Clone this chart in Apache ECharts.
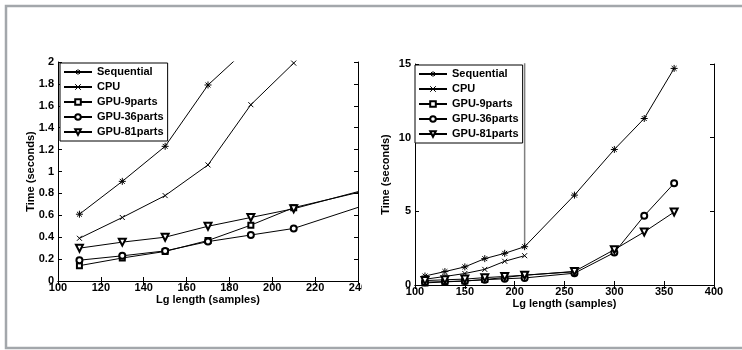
<!DOCTYPE html>
<html>
<head>
<meta charset="utf-8">
<script src="https://cdn.jsdelivr.net/npm/echarts@6/dist/echarts.min.js"></script>
<style>
  html, body { margin: 0; padding: 0; background: #fff; }
  #chart { width: 742px; height: 350px; }
</style>
</head>
<body>
<div id="chart"></div>
<script>
// lg length (samples) for each measurement
const lengths = [110, 130, 150, 170, 190, 210, 260, 300, 330, 360];
// times in seconds
const sequential = [0.61, 0.91, 1.23, 1.79, 2.15, 2.6, 6.1, 9.2, 11.3, 14.7];
const cpu = [0.39, 0.58, 0.78, 1.06, 1.61, 1.99];
const gpu9 = [0.14, 0.21, 0.27, 0.37, 0.51, 0.67, 0.9];
const gpu36 = [0.19, 0.23, 0.275, 0.36, 0.42, 0.48, 0.8, 2.2, 4.7, 6.9];
const gpu81 = [0.30, 0.355, 0.40, 0.50, 0.58, 0.66, 0.92, 2.4, 3.6, 4.95];
// the odd grey spike in the right panel
const spike = [[210, 2.6], [210, 16]];

const names = ["Sequential", "CPU", "GPU-9parts", "GPU-36parts", "GPU-81parts"];
const font = "'Liberation Sans', Arial, sans-serif";

const starPath = "path://M0,-10L0,10M-10,0L10,0M-7,-7L7,7M-7,7L7,-7";
const crossPath = "path://M-10,-10L10,10M-10,10L10,-10";

function pairs(vals) {
    let out = [];
    for (let i = 0; i < vals.length; i++) out.push([lengths[i], vals[i]]);
    return out;
}

const styles = [
    { data: sequential, symbol: starPath, size: 7 },
    { data: cpu, symbol: crossPath, size: 5 },
    { data: gpu9, symbol: "emptyRect", size: 5 },
    { data: gpu36, symbol: "emptyCircle", size: 6 },
    { data: gpu81, symbol: "emptyTriangle", size: 7, rotate: 180 },
];

function makeSeries(gridIdx) {
    let series = [];
    for (let i = 0; i < names.length; i++) {
        let s = styles[i];
        series.push({
            name: names[i],
            type: "line",
            xAxisIndex: gridIdx * 2,
            yAxisIndex: gridIdx * 2,
            data: pairs(s.data),
            symbol: s.symbol,
            symbolSize: s.size,
            symbolRotate: s.rotate || 0,
            showAllSymbol: true,
            clip: true,
            animation: false,
            lineStyle: { color: "#000", width: 1 },
            itemStyle: { color: "#000", borderColor: "#000", borderWidth: 1 },
        });
    }
    return series;
}

function axisPair(dim, gridIdx, min, max, interval, name, nameGap) {
    const main = {
        type: "value",
        gridIndex: gridIdx,
        min: min, max: max, interval: interval,
        name: name,
        nameLocation: "middle",
        nameGap: nameGap,
        nameMoveOverlap: false,
        nameTextStyle: { fontFamily: font, fontWeight: "bold", fontSize: 11, color: "#000" },
        axisLine: { show: true, lineStyle: { color: "#000", width: 1 } },
        axisTick: { show: true, inside: true, length: 4, lineStyle: { color: "#000" } },
        axisLabel: { fontFamily: font, fontWeight: "bold", fontSize: 11, color: "#000", margin: dim == "x" ? 1 : 4 },
        splitLine: { show: false },
    };
    const mirror = {
        type: "value",
        gridIndex: gridIdx,
        min: min, max: max, interval: interval,
        position: dim == "x" ? "top" : "right",
        axisLine: { show: true, lineStyle: { color: "#000", width: 1 } },
        axisTick: { show: true, inside: true, length: 4, lineStyle: { color: "#000" } },
        axisLabel: { show: false },
        splitLine: { show: false },
    };
    return [main, mirror];
}

function makeLegend(left, top) {
    return {
        left: left, top: top,
        orient: "vertical",
        data: names,
        itemWidth: 28,
        itemHeight: 7,
        itemGap: 3,
        padding: [3, 4, 3, 3],
        borderColor: "#000",
        borderWidth: 1,
        backgroundColor: "#fff",
        selectedMode: false,
        itemStyle: { borderWidth: 1 },
        textStyle: { fontFamily: font, fontWeight: "bold", fontSize: 11, lineHeight: 12, color: "#000" },
    };
}

const chart = echarts.init(document.getElementById("chart"));

let series = makeSeries(0).concat(makeSeries(1));
series.push({
    type: "line",
    xAxisIndex: 2,
    yAxisIndex: 2,
    data: spike,
    symbol: "none",
    clip: true,
    animation: false,
    lineStyle: { color: "#808080", width: 1.5 },
});

const option = {
    animation: false,
    backgroundColor: "#fff",
    grid: [
        { left: 58, top: 62, width: 300, height: 219 },
        { left: 415, top: 64, width: 299, height: 221 },
    ],
    xAxis: axisPair("x", 0, 100, 240, 20, "Lg length (samples)", 13)
        .concat(axisPair("x", 1, 100, 400, 50, "Lg length (samples)", 13)),
    yAxis: axisPair("y", 0, 0, 2, 0.2, "Time (seconds)", 22)
        .concat(axisPair("y", 1, 0, 15, 5, "Time (seconds)", 24)),
    legend: [makeLegend(60, 63), makeLegend(415, 65)],
    series: series,
    graphic: [
        {
            type: "rect",
            z: 100,
            silent: true,
            shape: { x: 362, y: 282, width: 30, height: 13 },
            style: { fill: "#fff" },
        },
        {
            type: "rect",
            z: 100,
            silent: true,
            shape: { x: 6, y: 6, width: 800, height: 342 },
            style: { fill: "none", stroke: "#a3a7ab", lineWidth: 2.5 },
        },
    ],
};

chart.setOption(option);
</script>
</body>
</html>
